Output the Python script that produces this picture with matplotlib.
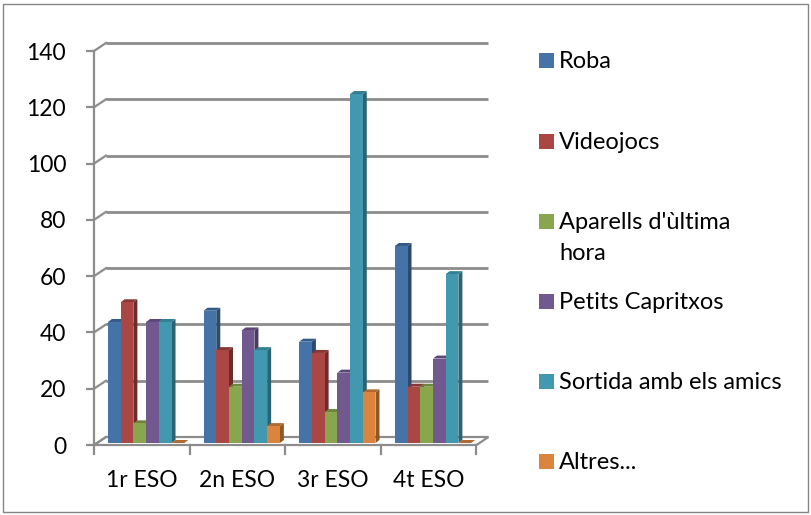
import numpy as np
import matplotlib
matplotlib.use('Agg')
from matplotlib import pyplot as plt
from matplotlib.patches import Polygon, Rectangle
from matplotlib.transforms import IdentityTransform, offset_copy

plt.rcParams['font.family'] = ['Lato', 'DejaVu Sans']

# data
categories = ['1r ESO', '2n ESO', '3r ESO', '4t ESO']
series_names = ['Roba', 'Videojocs', "Aparells d'ùltima\nhora", 'Petits Capritxos',
                'Sortida amb els amics', 'Altres...']
roba = [43, 47, 36, 70]
videojocs = [50, 33, 32, 20]
aparells = [7, 20, 11, 20]
petits = [43, 40, 25, 30]
sortida = [43, 33, 124, 60]
altres = [0, 6, 18, 0]
yticks = [0, 20, 40, 60, 80, 100, 120, 140]

series = [roba, videojocs, aparells, petits, sortida, altres]
front_cols = ['#4573A7', '#AA4643', '#89A54E', '#71588F', '#4198AF', '#DB843D']
side_cols = ['#2A4A70', '#6E2B29', '#5A6D33', '#4A3A5E', '#2A6473', '#8F5627']
top_cols = ['#345A8A', '#873735', '#6E853F', '#5C4776', '#337F93', '#B06A31']

FS = 16.5
W, H = 812, 515
fig = plt.figure(figsize=(W / 100, H / 100), dpi=100)
# plot box: front x 94..476.5 px, y 0 at 445 px, 140 at 51 px
ax = fig.add_axes([94 / W, (H - 445) / H, 382.5 / W, 394 / H])
ax.set_xlim(0, 4)
ax.set_ylim(0, 140)
for s in ['top', 'right', 'bottom']:
    ax.spines[s].set_visible(False)
ax.spines['left'].set_color('#8c8c8c')
ax.spines['left'].set_linewidth(1.6)
ax.set_yticks(yticks)
ax.tick_params(axis='y', length=6, width=1.6, color='#8c8c8c', pad=14, labelsize=FS)
ax.set_xticks([])
ax.patch.set_visible(False)

grid = '#8c8c8c'
depth = (12, 8)  # back wall offset in pixels
back = offset_copy(ax.transData, fig=fig, x=depth[0], y=depth[1], units='dots')
T = ax.transData.transform

# floor
f0, f1 = T((0, 0)), T((4, 0))
floor = [f0, f1, f1 + depth, f0 + depth]
ax.add_patch(Polygon(floor, closed=True, facecolor='white', edgecolor=grid, lw=1.6,
                     transform=IdentityTransform(), clip_on=False, zorder=1))
# back wall gridlines and the slanted ticks
ax.hlines(yticks[1:], 0, 4, colors=grid, lw=2, transform=back, clip_on=False, zorder=1)
for v in yticks:
    p = T((0, v))
    ax.plot([p[0], p[0] + depth[0]], [p[1], p[1] + depth[1]], color=grid, lw=1.6,
            transform=IdentityTransform(), clip_on=False, zorder=1)

# category ticks and labels
for i in range(len(categories) + 1):
    p = T((i, 0))
    ax.plot([p[0], p[0]], [p[1], p[1] - 9], color=grid, lw=1.6,
            transform=IdentityTransform(), clip_on=False, zorder=1)
for i, c in enumerate(categories):
    ax.text(i + 0.5, -12.5, c, ha='center', va='center', fontsize=FS, color='black')

# bars with a simple 3-D look
bw = 0.133
start = 0.13
bar_tr = offset_copy(ax.transData, fig=fig, x=1.5, y=2, units='dots')
TB = bar_tr.transform
d = np.array([4, 3])
for g in range(len(categories)):
    for k, vals in enumerate(series):
        x0 = g + start + k * bw
        v = vals[g]
        z = 10 + 2 * (g * len(series) + k)
        tl, tr, br = TB((x0, v)), TB((x0 + bw, v)), TB((x0 + bw, 0))
        ax.add_patch(Polygon([tr, br, br + d, tr + d], closed=True, facecolor=side_cols[k],
                             lw=0, transform=IdentityTransform(), clip_on=False, zorder=z))
        ax.add_patch(Polygon([tl, tr, tr + d, tl + d], closed=True, facecolor=top_cols[k],
                             lw=0, transform=IdentityTransform(), clip_on=False, zorder=z))
        ax.bar(x0, v, width=bw, align='edge', color=front_cols[k], lw=0,
               transform=bar_tr, zorder=z + 1, clip_on=False)

# legend
leg_y = [60, 141, 221, 301, 381, 461]
for k, name in enumerate(series_names):
    y = H - leg_y[k]
    fig.patches.append(Rectangle((539 / W, (y - 7.5) / H), 15 / W, 15 / H,
                                 facecolor=front_cols[k], lw=0, transform=fig.transFigure))
    for j, line in enumerate(name.split('\n')):
        fig.text(559 / W, (y - 8 - 31 * j) / H, line, ha='left', va='baseline', fontsize=17)

# chart border
fig.patches.append(Rectangle((3 / W, 3 / H), (W - 7) / W, (H - 7) / H, fill=False,
                             edgecolor='#868686', lw=1, transform=fig.transFigure))

fig.savefig('out.png', dpi=100)
